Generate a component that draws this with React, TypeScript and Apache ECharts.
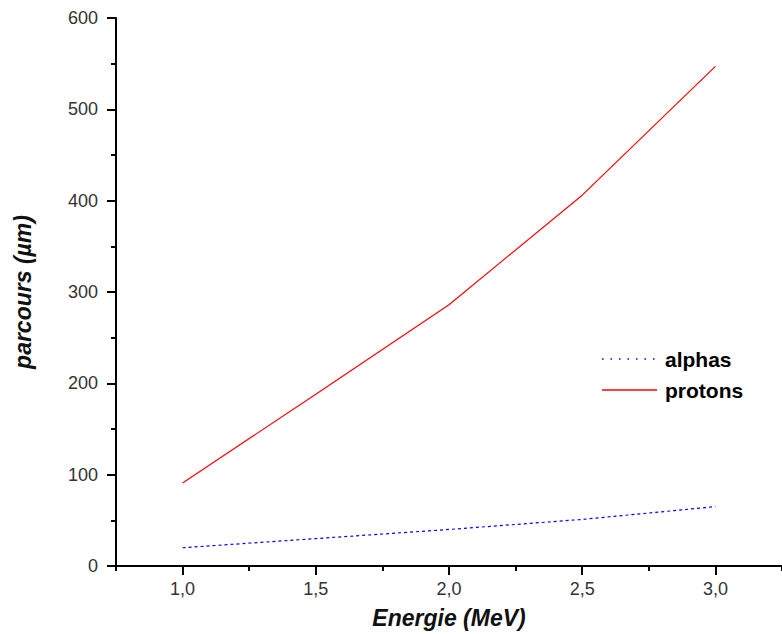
import React, { useEffect, useRef } from "react";
import * as echarts from "echarts";

const energies = [1.0, 1.5, 2.0, 2.5, 3.0];
const alphas = [20, 30, 40, 51, 65];
const protons = [91, 188, 286, 406, 547];
const majorTicks = [1.0, 1.5, 2.0, 2.5, 3.0];
const minorTicks = [0.75, 1.25, 1.75, 2.25, 2.75, 3.25];
const legendNames = ["alphas", "protons"];

export default function App() {
  const ref = useRef<HTMLDivElement>(null);
  useEffect(() => {
    const chart = echarts.init(ref.current!, null, { renderer: "svg" });
    const font = "Liberation Sans, Arial, sans-serif";
    const legendStyles = [
      { stroke: "#0000ff", lineWidth: 1.3, lineDash: [1.5, 7] },
      { stroke: "#ff0000", lineWidth: 1.3 },
    ];
    const legendGraphics: any[] = [];
    legendNames.forEach((name, i) => {
      const y = 359 + i * 31;
      legendGraphics.push({
        type: "line",
        shape: { x1: 602, y1: y, x2: 657, y2: y },
        style: legendStyles[i],
        silent: true,
      });
      legendGraphics.push({
        type: "text",
        x: 665,
        y,
        style: {
          text: name,
          fontSize: 21,
          fontWeight: "bold",
          fontFamily: font,
          fill: "#000",
          verticalAlign: "middle",
          align: "left",
        },
        silent: true,
      });
    });
    chart.setOption({
      animation: false,
      backgroundColor: "#ffffff",
      grid: { left: 116, top: 18, width: 670, height: 548, containLabel: false },
      graphic: legendGraphics,
      xAxis: [
        {
          type: "value",
          min: 0.75,
          max: 3.25,
          name: "Energie (MeV)",
          nameLocation: "middle",
          nameGap: 40,
          nameTextStyle: { fontSize: 23, fontStyle: "italic", fontWeight: "bold", color: "#111", fontFamily: font, verticalAlign: "top" },
          axisLine: { show: true, onZero: false, lineStyle: { color: "#000", width: 2 } },
          axisTick: { show: true, length: 9, lineStyle: { color: "#000", width: 2 }, customValues: majorTicks },
          axisLabel: {
            customValues: majorTicks,
            fontSize: 18,
            color: "#333",
            fontFamily: font,
            margin: 14,
            formatter: (v: number) => v.toFixed(1).replace(".", ","),
          },
          splitLine: { show: false },
        },
        {
          type: "value",
          min: 0.75,
          max: 3.25,
          position: "bottom",
          axisLine: { show: false },
          axisTick: { show: true, length: 5, lineStyle: { color: "#000", width: 2 }, customValues: minorTicks },
          axisLabel: { show: false },
          splitLine: { show: false },
        },
      ],
      yAxis: {
        type: "value",
        min: 0,
        max: 600,
        interval: 100,
        name: "parcours (µm)",
        nameLocation: "middle",
        nameGap: 82,
        nameTextStyle: { fontSize: 23, fontStyle: "italic", fontWeight: "bold", color: "#111", fontFamily: font },
        axisLine: { show: true, onZero: false, lineStyle: { color: "#000", width: 2 } },
        axisTick: { show: true, length: 9, lineStyle: { color: "#000", width: 2 } },
        minorTick: { show: true, splitNumber: 2, length: 5, lineStyle: { color: "#000", width: 2 } },
        axisLabel: { fontSize: 18, color: "#333", fontFamily: font, margin: 18 },
        splitLine: { show: false },
        minorSplitLine: { show: false },
      },
      series: [
        {
          name: "alphas",
          type: "line",
          data: energies.map((e, i) => [e, alphas[i]]),
          showSymbol: false,
          symbol: "none",
          lineStyle: { color: "#0000ff", width: 1.2, type: [3, 3] },
          itemStyle: { color: "#0000ff" },
        },
        {
          name: "protons",
          type: "line",
          data: energies.map((e, i) => [e, protons[i]]),
          showSymbol: false,
          symbol: "none",
          lineStyle: { color: "#ff0000", width: 1.2 },
          itemStyle: { color: "#ff0000" },
        },
      ],
    });
    return () => chart.dispose();
  }, []);
  return <div ref={ref} style={{ width: 782, height: 634, position: "absolute", left: 0, top: 0 }} />;
}
